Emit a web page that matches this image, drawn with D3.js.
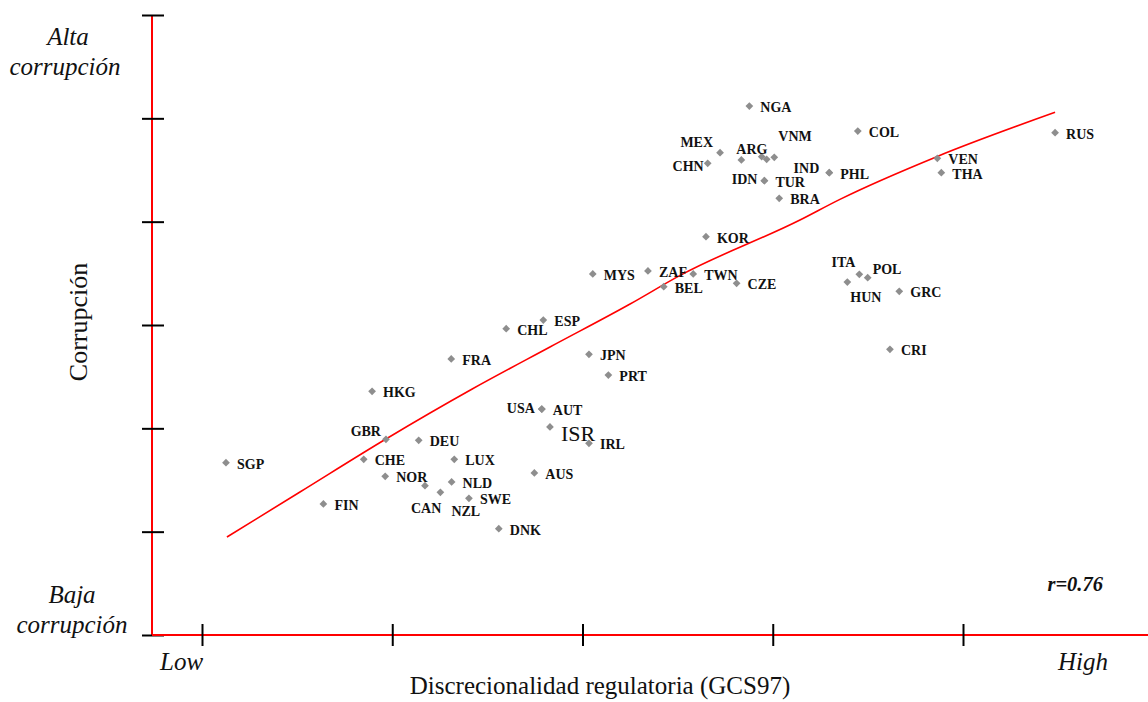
<!DOCTYPE html>
<html>
<head>
<meta charset="utf-8">
<script src="https://cdn.jsdelivr.net/npm/d3@7"></script>
<style>
	body { margin: 0; background: #fff; }
	svg { display: block; font-family: "Liberation Serif", "Times New Roman", serif; }
</style>
</head>
<body>
<svg width="1148" height="702"></svg>
<script>
// country codes, regulatory discretion (x) and corruption (y)
var codes = ['NGA','MEX','CHN','ARG','','','VNM','COL','VEN','THA','RUS','PHL','IND','IDN','TUR','BRA',
	'KOR','MYS','ZAF','TWN','BEL','CZE','ITA','POL','HUN','GRC','CRI','CHL','ESP','FRA','JPN','PRT',
	'HKG','USA','AUT','ISR','IRL','GBR','DEU','CHE','LUX','NOR','AUS','NLD','CAN','NZL','SWE','FIN','DNK','SGP'];
var xVals = [3.877,3.723,3.658,3.835,3.942,3.968,4.008,4.447,4.865,4.886,5.484,4.297,4.297,3.956,3.956,4.034,
	3.649,3.054,3.344,3.582,3.427,3.810,4.455,4.499,4.392,4.665,4.616,2.599,2.794,2.310,3.034,3.136,
	1.894,2.786,2.786,2.829,3.034,1.967,2.139,1.850,2.326,1.963,2.747,2.312,2.172,2.253,2.403,1.638,2.560,1.126];
var yVals = [5.119,4.667,4.565,4.597,4.629,4.604,4.623,4.877,4.613,4.474,4.861,4.474,4.474,4.397,4.397,4.226,
	3.855,3.494,3.523,3.494,3.371,3.403,3.491,3.458,3.416,3.326,2.765,2.964,3.048,2.671,2.716,2.516,
	2.358,2.187,2.187,2.013,1.855,1.894,1.884,1.700,1.700,1.536,1.568,1.481,1.445,1.381,1.323,1.268,1.029,1.668];

// fitted curve
var fitX = [1.131,1.515,1.967,2.418,2.829,3.250,3.513,4.143,4.353,4.862,5.484];
var fitY = [0.948,1.384,1.897,2.378,2.787,3.203,3.480,4.016,4.216,4.629,5.058];

var xTicks = [1,2,3,4,5];
var yTicks = [0,1,2,3,4,5,6];
var corr = 'r=0.76';

// labels that don't sit to the right of their point: [dx, dy, anchor, size, weight]
var labelPlace = {
	MEX: [-7,-6,'end'], CHN: [-4,8,'end'], ARG: [-5,-6,'start'], VNM: [4,-16,'start'],
	IND: [-10,0,'end'], IDN: [-7,3,'end'], USA: [-7,4,'end'], ITA: [-4,-7,'end'],
	POL: [5,-4,'start'], HUN: [3,20,'start'], GBR: [-5,-3,'end'], CAN: [-14,27,'start'],
	NZL: [11,24,'start'], ISR: [11,14,'start',22,'normal']
};

var svg = d3.select('svg');
var x = d3.scaleLinear().domain([1,5]).range([202,963]);
var y = d3.scaleLinear().domain([0,6]).range([635,15]);

// y axis: red spine then black ticks
svg.append('line')
	.attr('x1', x(1) - 50).attr('x2', x(1) - 50)
	.attr('y1', y(6)).attr('y2', y(0))
	.attr('stroke', '#ff0000').attr('stroke-width', 2);

var yax = svg.append('g')
	.attr('transform', 'translate(' + (x(1) - 50) + ',0)')
	.call(d3.axisLeft(y).tickValues(yTicks).tickSize(10).tickFormat(''));
yax.select('path').remove();
yax.selectAll('.tick line').attr('x1', 12).attr('stroke', '#000').attr('stroke-width', 2);

// x axis
svg.append('line')
	.attr('x1', x(1) - 50).attr('x2', 1148)
	.attr('y1', y(0)).attr('y2', y(0))
	.attr('stroke', '#ff0000').attr('stroke-width', 2);

var xax = svg.append('g')
	.attr('transform', 'translate(0,' + y(0) + ')')
	.call(d3.axisBottom(x).tickValues(xTicks).tickSize(11).tickFormat(''));
xax.select('path').remove();
xax.selectAll('.tick line').attr('y1', -11).attr('stroke', '#000').attr('stroke-width', 2);

// fit line
var fit = fitX.map(function(v,i){ return [v, fitY[i]]; });
svg.append('path')
	.datum(fit)
	.attr('fill', 'none')
	.attr('stroke', '#ff0000')
	.attr('stroke-width', 1.6)
	.attr('d', d3.line()
		.x(function(d){ return x(d[0]); })
		.y(function(d){ return y(d[1]); })
		.curve(d3.curveMonotoneX));

// points
var pts = codes.map(function(c,i){ return { code: c, x: xVals[i], y: yVals[i] }; });
var diamond = d3.symbol().type(d3.symbolSquare).size(30);

svg.append('g').selectAll('path')
	.data(pts)
	.enter().append('path')
		.attr('d', diamond)
		.attr('transform', function(d){ return 'translate(' + x(d.x) + ',' + y(d.y) + ') rotate(45)'; })
		.attr('fill', '#8e8e8e');

svg.append('g').selectAll('text')
	.data(pts.filter(function(d){ return d.code != ''; }))
	.enter().append('text')
		.text(function(d){ return d.code; })
		.each(function(d){
			var p = labelPlace[d.code] || [11,6,'start'];
			d3.select(this)
				.attr('x', x(d.x) + p[0])
				.attr('y', y(d.y) + p[1])
				.attr('text-anchor', p[2])
				.attr('font-size', p[3] || 14)
				.attr('font-weight', p[4] || 'bold')
				.attr('fill', '#111');
		});

// corner texts
function itxt(t, cx, cy, anchor){
	svg.append('text').text(t)
		.attr('x', cx).attr('y', cy)
		.attr('text-anchor', anchor || 'middle')
		.attr('font-size', 25).attr('font-style', 'italic').attr('fill', '#111');
}
itxt('Alta', 68, 45);
itxt('corrupción', 65, 75);
itxt('Baja', 72, 603);
itxt('corrupción', 72, 633);
itxt('Low', 160, 670, 'start');
itxt('High', 1058, 670, 'start');

svg.append('text').text(corr)
	.attr('x', 1103).attr('y', 591)
	.attr('text-anchor', 'end')
	.attr('font-size', 20.5).attr('font-weight', 'bold').attr('font-style', 'italic')
	.attr('fill', '#111');

// axis titles
svg.append('text').text('Discrecionalidad regulatoria (GCS97)')
	.attr('x', 600).attr('y', 694)
	.attr('text-anchor', 'middle')
	.attr('font-size', 25).attr('fill', '#111');

svg.append('text').text('Corrupción')
	.attr('transform', 'translate(87,322) rotate(-90)')
	.attr('text-anchor', 'middle')
	.attr('font-size', 26).attr('fill', '#111');
</script>
</body>
</html>
